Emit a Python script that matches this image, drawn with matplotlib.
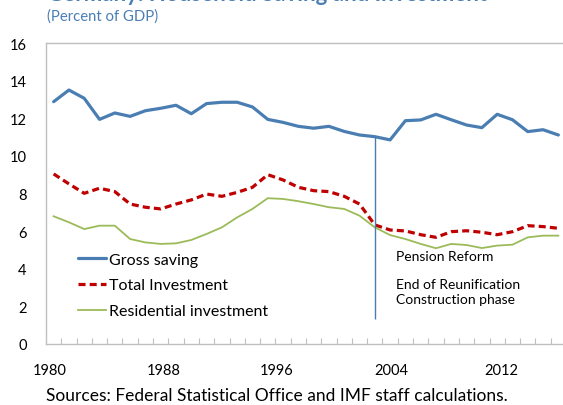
import matplotlib.pyplot as plt
import numpy as np

plt.rcParams['font.family'] = ['Lato', 'DejaVu Sans']

years = np.arange(1980, 2014)

gross_saving = [12.88, 13.50, 13.06, 11.94, 12.28, 12.10, 12.40, 12.53, 12.69, 12.24,
                12.78, 12.85, 12.85, 12.60, 11.94, 11.78, 11.57, 11.47, 11.57, 11.30,
                11.11, 11.02, 10.85, 11.87, 11.91, 12.21, 11.92, 11.64, 11.50, 12.21,
                11.92, 11.29, 11.39, 11.11]

total_investment = [9.04, 8.51, 8.01, 8.28, 8.10, 7.44, 7.27, 7.18, 7.44, 7.66,
                    7.97, 7.85, 8.06, 8.33, 9.00, 8.72, 8.33, 8.15, 8.10, 7.85,
                    7.44, 6.33, 6.06, 6.01, 5.81, 5.67, 5.97, 6.02, 5.94, 5.81,
                    5.97, 6.29, 6.24, 6.15]

residential = [6.79, 6.47, 6.11, 6.29, 6.29, 5.58, 5.40, 5.32, 5.35, 5.53,
               5.85, 6.20, 6.73, 7.18, 7.75, 7.71, 7.59, 7.44, 7.27, 7.18,
               6.82, 6.20, 5.79, 5.58, 5.32, 5.09, 5.32, 5.26, 5.10, 5.23,
               5.28, 5.67, 5.76, 5.76]

xtick_labels = ['1980', '1988', '1996', '2004', '2012']
# label positions as they sit in the source picture
xtick_pos = [1979.76, 1987.18, 1994.6, 2002.06, 2009.3]

reform_year = 2001
reform_bottom = 1.33

blue = '#4a7eb3'
red = '#c00000'
green = '#9bbb59'
grey = '#bfbfbf'

fig = plt.figure(figsize=(5.63, 4.06), dpi=100)
ax = fig.add_axes([46 / 563, 61 / 406, 520 / 563, 301 / 406])

ax.plot(years, gross_saving, color=blue, lw=2.3, label='Gross saving', solid_capstyle='round')
ax.plot(years, total_investment, color=red, lw=2.3, ls=(0, (2.2, 1.3)), label='Total Investment')
ax.plot(years, residential, color=green, lw=1.3, label='Residential investment')

i = list(years).index(reform_year)
ax.vlines(reform_year, reform_bottom, gross_saving[i], color=blue, lw=1.0)

ax.text(2002.4, 4.7, 'Pension Reform', fontsize=10, va='center', ha='left')
ax.text(2002.4, 2.78, 'End of Reunification\nConstruction phase', fontsize=10,
        va='center', ha='left', linespacing=1.3)

ax.set_xlim(1979.5, 2013.5)
ax.set_ylim(0, 16)
ax.set_yticks(range(0, 17, 2))
ax.set_xticks(xtick_pos)
ax.set_xticklabels(xtick_labels)
ax.set_xticks(np.arange(1980.5, 2013.5, 1), minor=True)
ax.tick_params(axis='x', which='major', length=0, pad=14, labelsize=10.5)
ax.tick_params(axis='x', which='minor', direction='in', length=4, color=grey, width=0.8)
ax.tick_params(axis='y', length=0, pad=14, labelsize=10.5)

for s in ['left', 'bottom', 'top']:
    ax.spines[s].set_color(grey)
    ax.spines[s].set_linewidth(1.0)
ax.spines['right'].set_visible(False)

ax.legend(loc='upper left', bbox_to_anchor=(0.05, 0.325), frameon=False, fontsize=11.5,
          handlelength=1.75, handletextpad=0.15, labelspacing=0.72, borderaxespad=0)

fig.text(47 / 563, 1 - 1 / 406, 'Germany: Household Saving and Investment', color=blue,
         fontsize=16, fontweight='bold', ha='left', va='baseline')
fig.text(47 / 563, 1 - 17 / 406, '(Percent of GDP)', color=blue, fontsize=10.7,
         ha='left', va='center')
fig.text(46 / 563, 1 - 396 / 406, 'Sources: Federal Statistical Office and IMF staff calculations.',
         fontsize=12.5, ha='left', va='center')

fig.savefig('out.png', dpi=100)
